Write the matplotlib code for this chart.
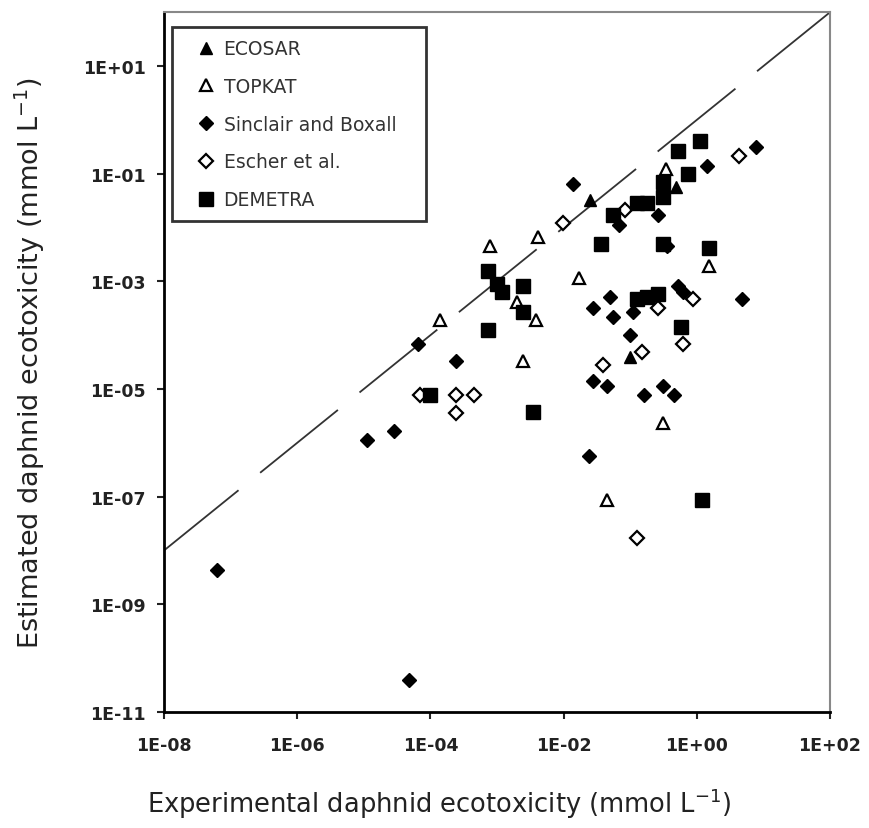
import numpy as np
import matplotlib
matplotlib.use('Agg')
import matplotlib.pyplot as plt

# ==========================================
# 数据 (从图上读取, mmol/L)
# ==========================================
ecosar_x = [2.5e-2, 4.8e-1, 1.0e-1]
ecosar_y = [3.2e-2, 5.6e-2, 4.0e-5]

topkat_x = [1.4e-4, 7.9e-4, 4.2e-3, 3.9e-3, 2.0e-3, 2.5e-3, 1.7e-2, 3.4e-1, 1.5, 3.1e-1, 4.5e-2]
topkat_y = [1.9e-4, 4.5e-3, 6.8e-3, 1.9e-4, 4.2e-4, 3.3e-5, 1.15e-3, 1.2e-1, 1.9e-3, 2.3e-6, 8.5e-8]

sinclair_x = [6.3e-8, 4.8e-5, 1.1e-5, 2.8e-5, 6.5e-5, 2.4e-4, 1.4e-2, 6.7e-2, 2.6e-1,
              3.6e-1, 1.4, 7.7, 4.9e-2, 2.8e-2, 5.5e-2, 1.1e-1, 5.2e-1, 6.3e-1, 4.8,
              1.0e-1, 2.8e-2, 4.5e-2, 1.6e-1, 3.1e-1, 4.5e-1, 2.4e-2]
sinclair_y = [4.4e-9, 4.0e-11, 1.15e-6, 1.65e-6, 6.8e-5, 3.3e-5, 6.4e-2, 1.1e-2, 1.7e-2,
              4.5e-3, 1.4e-1, 3.1e-1, 5.2e-4, 3.2e-4, 2.2e-4, 2.7e-4, 8.2e-4, 6.3e-4, 4.8e-4,
              1.0e-4, 1.4e-5, 1.15e-5, 7.7e-6, 1.15e-5, 7.7e-6, 5.7e-7]

escher_x = [7.1e-5, 2.4e-4, 4.5e-4, 2.4e-4, 9.7e-3, 8.4e-2, 4.3, 2.6e-1, 8.7e-1,
            6.3e-1, 1.5e-1, 3.9e-2, 1.26e-1]
escher_y = [7.7e-6, 7.7e-6, 7.7e-6, 3.6e-6, 1.2e-2, 2.1e-2, 2.1e-1, 3.2e-4, 4.8e-4,
            6.8e-5, 4.9e-5, 2.8e-5, 1.7e-8]

demetra_x = [1.0e-4, 7.4e-4, 1.0e-3, 1.2e-3, 2.5e-3, 2.5e-3, 7.4e-4, 3.5e-3, 3.6e-2,
             5.5e-2, 1.26e-1, 1.8e-1, 5.2e-1, 1.1, 3.1e-1, 3.1e-1, 7.5e-1, 3.1e-1,
             1.5, 1.26e-1, 1.8e-1, 2.6e-1, 5.8e-1, 1.2]
demetra_y = [7.7e-6, 1.55e-3, 9.0e-4, 6.3e-4, 8.2e-4, 2.7e-4, 1.25e-4, 3.7e-6, 4.9e-3,
             1.7e-2, 2.9e-2, 2.9e-2, 2.7e-1, 4.0e-1, 7.1e-2, 3.7e-2, 9.8e-2, 4.9e-3,
             4.1e-3, 4.8e-4, 5.2e-4, 5.8e-4, 1.45e-4, 8.5e-8]

x_ticks = [1e-8, 1e-6, 1e-4, 1e-2, 1e0, 1e2]
x_tick_labels = ['1E-08', '1E-06', '1E-04', '1E-02', '1E+00', '1E+02']
y_ticks = [1e-11, 1e-9, 1e-7, 1e-5, 1e-3, 1e-1, 1e1]
y_tick_labels = ['1E-11', '1E-09', '1E-07', '1E-05', '1E-03', '1E-01', '1E+01']

one_to_one = [1e-8, 1e2]

# ==========================================
# 绘图
# ==========================================
fig = plt.figure(figsize=(8.7, 8.29), dpi=100)
ax = fig.add_axes([0.1885, 0.140, 0.7655, 0.844])

lw_line = 1.3
ax.plot(one_to_one, one_to_one, color='#333333', lw=lw_line,
        linestyle=(3 / lw_line, (72 / lw_line, 20 / lw_line)), zorder=1)

ax.plot(ecosar_x, ecosar_y, '^', ms=9, color='black', label='ECOSAR', zorder=3)
ax.plot(topkat_x, topkat_y, '^', ms=9, mfc='white', mec='black', mew=1.6,
        label='TOPKAT', zorder=3)
ax.plot(sinclair_x, sinclair_y, 'D', ms=7.5, color='black',
        label='Sinclair and Boxall', zorder=3)
ax.plot(escher_x, escher_y, 'D', ms=7.2, mfc='white', mec='black', mew=1.6,
        label='Escher et al.', zorder=3)
ax.plot(demetra_x, demetra_y, 's', ms=10, color='black', label='DEMETRA', zorder=4)

ax.set_xscale('log')
ax.set_yscale('log')
ax.set_xlim(1e-8, 1e2)
ax.set_ylim(1e-11, 1e2)
ax.set_xticks(x_ticks, x_tick_labels)
ax.set_yticks(y_ticks, y_tick_labels)
ax.minorticks_off()

ax.tick_params(axis='both', direction='out', length=5, width=1.5, colors='#222222',
               labelsize=12.5)
ax.tick_params(axis='x', pad=12)
ax.tick_params(axis='y', pad=8)
for lab in ax.get_xticklabels() + ax.get_yticklabels():
    lab.set_fontweight('bold')

for s in ['left', 'bottom']:
    ax.spines[s].set_linewidth(2)
    ax.spines[s].set_color('black')
for s in ['top', 'right']:
    ax.spines[s].set_linewidth(1.5)
    ax.spines[s].set_color('#888888')

ax.set_xlabel('Experimental daphnid ecotoxicity (mmol L$^{\\mathregular{-1}}$)',
              fontsize=18.5, color='#222222')
ax.xaxis.set_label_coords(0.414, -0.105)
ax.set_ylabel('Estimated daphnid ecotoxicity (mmol L$^{\\mathregular{-1}}$)',
              fontsize=19.5, color='#222222', labelpad=26)

# 图例: 末尾补空格让框更宽一些
leg = ax.legend(loc='upper left', bbox_to_anchor=(0.012, 0.979), borderaxespad=0,
                fontsize=13.5, frameon=True, fancybox=False, shadow=False,
                handlelength=2.3, handletextpad=-0.2, labelspacing=1.0,
                borderpad=0.65, labelcolor='#333333')
leg.get_texts()[2].set_text('Sinclair and Boxall   ')
leg.get_frame().set_edgecolor('black')
leg.get_frame().set_linewidth(2)

plt.savefig('out.png', dpi=100)
